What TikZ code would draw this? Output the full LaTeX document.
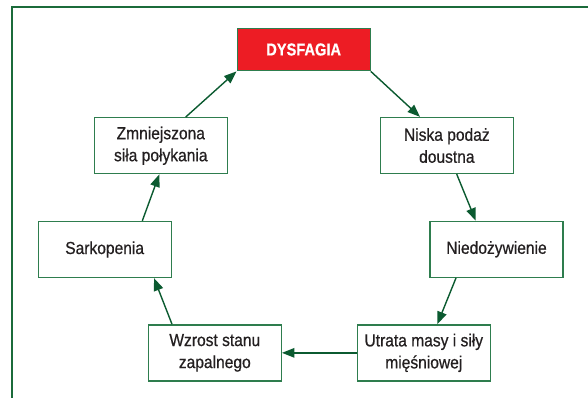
\documentclass[tikz,border=0pt]{standalone}
\usepackage{fontspec}
\usetikzlibrary{arrows.meta,calc}
\newfontfamily\condfont[FakeStretch=0.89,FakeBold=0.6]{Liberation Sans}
\newfontfamily\condboldfont[FakeStretch=0.85,FakeBold=0.6]{Liberation Sans}
\definecolor{framegreen}{HTML}{1B6B3A}
\definecolor{boxgreen}{HTML}{2E7D4E}
\definecolor{arrowgreen}{HTML}{0B5A30}
\definecolor{dysred}{HTML}{ED1C24}
\definecolor{txtgrey}{HTML}{231F20}
\tikzset{
  stagebox/.style={draw=boxgreen, line width=1.3pt, fill=white, minimum width=133pt, minimum height=56pt,
    inner sep=0pt, align=center, text=txtgrey, font=\condfont\fontsize{17.5}{22}\selectfont},
  redbox/.style={draw=boxgreen, line width=1.3pt, fill=dysred, minimum width=133pt, minimum height=42.5pt,
    inner sep=0pt, align=center, text=white, font=\condboldfont\bfseries\fontsize{17.2}{20}\selectfont},
  flow/.style={draw=arrowgreen, line width=1.4pt, -{Triangle[length=12.5pt,width=9.5pt]}}
}
\begin{document}
\begin{tikzpicture}[x=1pt,y=-1pt]
\useasboundingbox (0,0) rectangle (588,398);
\begin{scope}
\clip (0,0) rectangle (588,398);
\draw[framegreen, line width=2pt] (12.3,7.3) rectangle (620,430);
\end{scope}
\node[redbox]   (dys) at (303.65,49.5) {DYSFAGIA};
\node[stagebox] (zmn) at (160.8,145.7) {Zmniejszona\\siła połykania};
\node[stagebox] (nis) at (446.85,145.5) {Niska podaż\\doustna};
\node[stagebox] (sar) at (104.65,249.5) {Sarkopenia};
\node[stagebox] (nie) at (496.5,249.3) {Niedożywienie};
\node[stagebox] (wzr) at (214.8,352.85) {Wzrost stanu\\zapalnego};
\node[stagebox] (utr) at (423.8,352.85) {Utrata masy i siły\\mięśniowej};
\draw[flow] ([xshift=24.9pt]zmn.north) -- (dys.south west);
\draw[flow] (dys.south east) -- ([xshift=-26.85pt]nis.north);
\draw[flow] ([xshift=9.85pt]nis.south) -- ([xshift=-20.8pt]nie.north);
\draw[flow] ([xshift=-40.5pt]nie.south) -- ([xshift=13.5pt]utr.north);
\draw[flow] (utr.west) -- (wzr.east);
\draw[flow] ([xshift=-42.8pt]wzr.north) -- ([xshift=49.35pt]sar.south);
\draw[flow] ([xshift=37.65pt]sar.north) -- ([xshift=-1.5pt]zmn.south);
\end{tikzpicture}
\end{document}
